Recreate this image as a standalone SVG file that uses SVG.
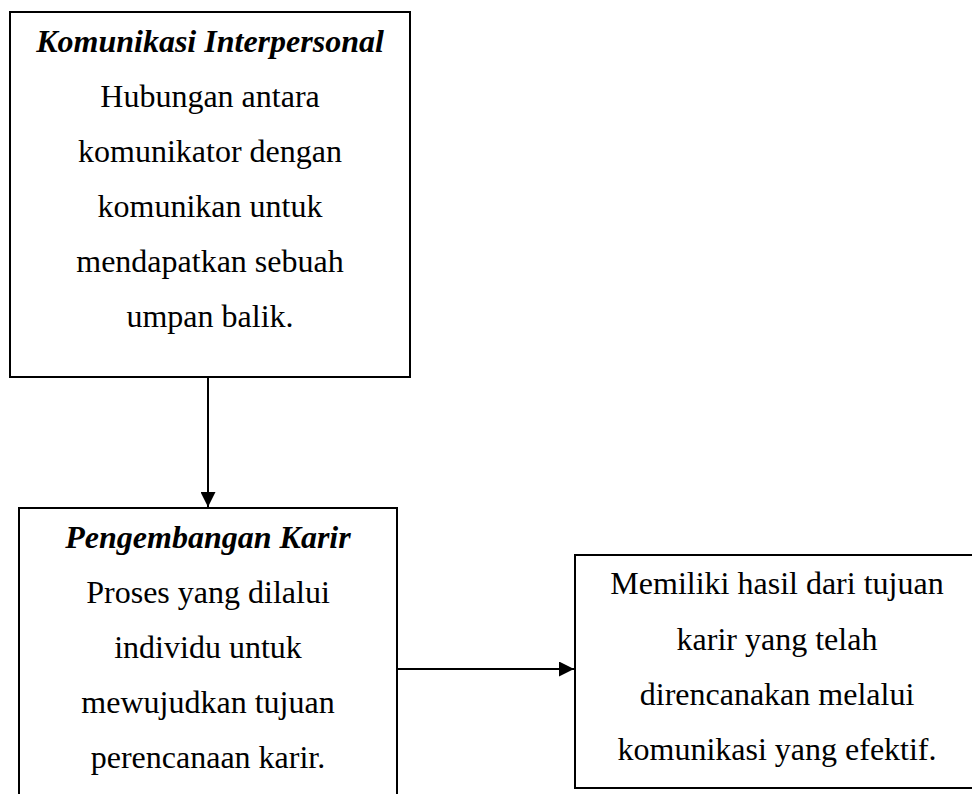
<svg xmlns="http://www.w3.org/2000/svg" width="972" height="794" viewBox="0 0 972 794">
<defs>
<style>
.box{fill:#fff;stroke:#000;stroke-width:2}
.t{font-family:"Liberation Serif","Times New Roman",serif;font-size:32px;fill:#000;text-anchor:middle}
.h{font-weight:bold;font-style:italic}
.c{stroke:#000;stroke-width:2;fill:none}
</style>
<marker id="ah" viewBox="0 0 10 10" refX="10" refY="5" markerWidth="7.5" markerHeight="7.5" markerUnits="strokeWidth" orient="auto">
<path d="M0,0 L10,5 L0,10 z" fill="#000"/>
</marker>
</defs>
<rect width="972" height="794" fill="#fff"/>
<g id="connectors">
<line class="c" x1="208" y1="377" x2="208" y2="507" marker-end="url(#ah)"/>
<line class="c" x1="397" y1="669" x2="574" y2="669" marker-end="url(#ah)"/>
</g>
<g id="node1">
<rect class="box" x="10" y="12" width="400" height="365"/>
<text class="t h" x="210" y="52">Komunikasi Interpersonal</text>
<text class="t" x="210" y="107">Hubungan antara</text>
<text class="t" x="210" y="162">komunikator dengan</text>
<text class="t" x="210" y="217">komunikan untuk</text>
<text class="t" x="210" y="272">mendapatkan sebuah</text>
<text class="t" x="210" y="327">umpan balik.</text>
</g>
<g id="node2">
<rect class="box" x="19" y="508" width="378" height="300"/>
<text class="t h" x="208" y="548">Pengembangan Karir</text>
<text class="t" x="208" y="603">Proses yang dilalui</text>
<text class="t" x="208" y="658">individu untuk</text>
<text class="t" x="208" y="713">mewujudkan tujuan</text>
<text class="t" x="208" y="768">perencanaan karir.</text>
</g>
<g id="node3">
<rect class="box" x="575" y="555" width="405" height="233"/>
<text class="t" x="777" y="594">Memiliki hasil dari tujuan</text>
<text class="t" x="777" y="650">karir yang telah</text>
<text class="t" x="777" y="705">direncanakan melalui</text>
<text class="t" x="777" y="760">komunikasi yang efektif.</text>
</g>
</svg>
